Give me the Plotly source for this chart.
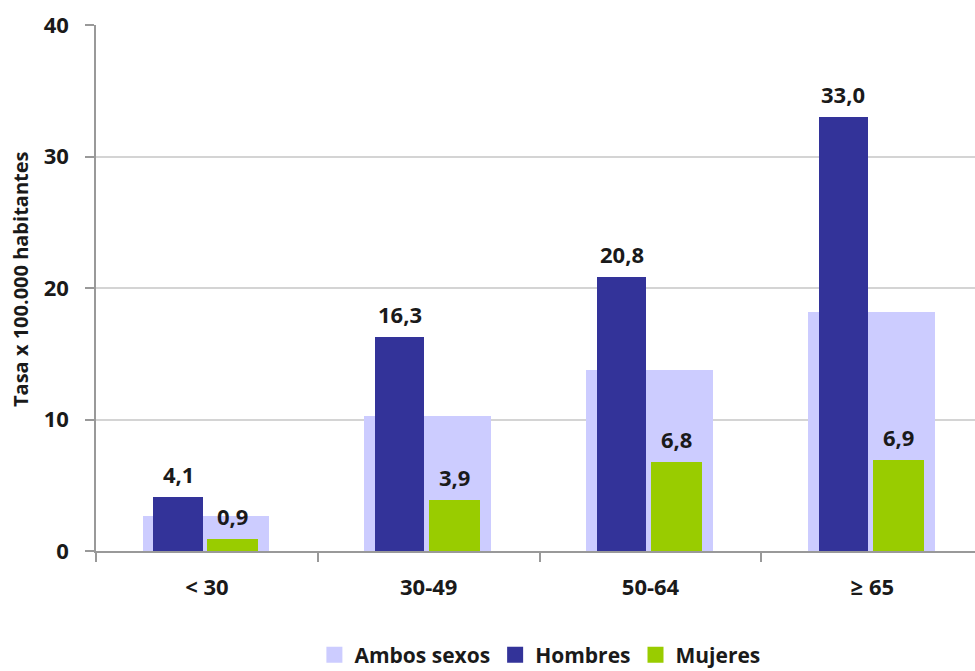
import plotly.graph_objects as go

# Tasa de mortalidad por grupo de edad y sexo (x 100.000 habitantes)
grupos = ["< 30", "30-49", "50-64", "≥ 65"]
ambos_sexos = [2.7, 10.3, 13.8, 18.2]
hombres = [4.1, 16.3, 20.8, 33.0]
mujeres = [0.9, 3.9, 6.8, 6.9]
y_ticks = [0, 10, 20, 30, 40]

FONT = "Open Sans"
TXT = "#1a1a1a"

C_AMBOS = "#CCCCFF"
C_HOMBRES = "#333399"
C_MUJERES = "#99CC00"

# bar geometry in category units (offset from category centre, width)
W_AMBOS, OFF_AMBOS = 0.572, -0.29
W_H, OFF_H = 0.222, -0.241
W_M, OFF_M = 0.23, 0.001


def fmt(v):
    return f"{v:.1f}".replace(".", ",")


fig = go.Figure()
series = [
    ("Ambos sexos", ambos_sexos, W_AMBOS, OFF_AMBOS, C_AMBOS),
    ("Hombres", hombres, W_H, OFF_H, C_HOMBRES),
    ("Mujeres", mujeres, W_M, OFF_M, C_MUJERES),
]
for name, vals, w, off, col in series:
    fig.add_trace(go.Bar(
        name=name, x=grupos, y=vals, width=w, offset=off,
        marker=dict(color=col, line=dict(width=0)),
        showlegend=False,
    ))
# legend entries with larger square swatches
for name, vals, w, off, col in series:
    fig.add_trace(go.Scatter(
        name=name, x=[None], y=[None], mode="markers",
        marker=dict(symbol="square", size=18, color=col),
        showlegend=True,
    ))

annotations = []
for i in range(len(grupos)):
    for vals, off, w in ((hombres, OFF_H, W_H), (mujeres, OFF_M, W_M)):
        annotations.append(dict(
            x=i + off + w / 2, y=vals[i], xref="x", yref="y",
            text=fmt(vals[i]), showarrow=False,
            xanchor="center", yanchor="bottom", yshift=6,
            font=dict(family=FONT, size=22, color=TXT, weight="bold"),
        ))

annotations.append(dict(
    x=0, y=0.5, xref="paper", yref="paper", xshift=-76, yshift=9,
    text="Tasa x 100.000 habitantes", textangle=-90, showarrow=False,
    xanchor="center", yanchor="middle",
    font=dict(family=FONT, size=20, color=TXT, weight="bold"),
))

fig.update_layout(
    width=975, height=671,
    margin=dict(l=96, r=0, t=25, b=120, autoexpand=False),
    paper_bgcolor="white", plot_bgcolor="white",
    barmode="overlay", bargap=0,
    showlegend=True,
    legend=dict(
        orientation="h", x=0.505, xanchor="center", y=-0.198, yanchor="middle",
        font=dict(family=FONT, size=21, color=TXT, weight="bold"),
        itemsizing="trace", itemwidth=30, traceorder="normal",
    ),
    annotations=annotations,
    font=dict(family=FONT, color=TXT),
)

fig.update_xaxes(
    type="category", range=[-0.5, 3.463],
    tickson="boundaries", ticks="outside", ticklen=9,
    tickcolor="#999999", tickwidth=1.5,
    showline=True, linecolor="#999999", linewidth=1.5,
    showgrid=False, zeroline=False,
    ticklabelstandoff=16,
    tickfont=dict(family=FONT, size=22, color=TXT, weight="bold"),
)
fig.update_yaxes(
    range=[0, 40], tickvals=y_ticks,
    ticks="outside", ticklen=9, tickcolor="#999999", tickwidth=1.5,
    showline=True, linecolor="#999999", linewidth=1.5,
    showgrid=True, gridcolor="#D4D4D4", gridwidth=1.5,
    zeroline=False,
    ticklabelstandoff=12,
    tickfont=dict(family=FONT, size=22, color=TXT, weight="bold"),
)

fig.write_html("out.html")
